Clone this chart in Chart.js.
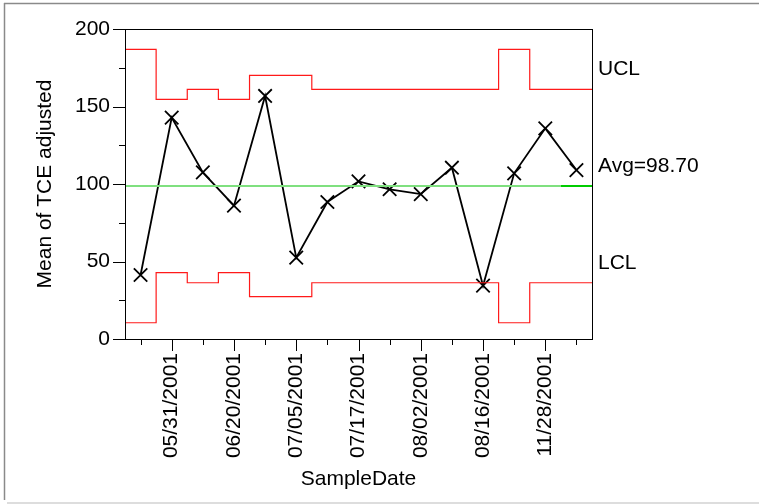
<!DOCTYPE html>
<html lang="en">
<head>
    <meta charset="UTF-8">
    <title>Mean of TCE adjusted</title>
    <script src="https://cdn.jsdelivr.net/npm/chart.js"></script>
    <style>
        body {
            margin: 0;
            background: #fff;
        }
        canvas {
            display: block;
        }
    </style>
</head>
<body>
    <canvas id="xbarChart" width="759" height="504"></canvas>

    <script>
        // tick labels along the bottom (only every other subgroup is labelled)
        const dateLabels = ['', '05/31/2001', '', '06/20/2001', '', '07/05/2001', '', '07/17/2001',
                            '', '08/02/2001', '', '08/16/2001', '', '11/28/2001', ''];
        // subgroup means
        const means = [41.3, 142.8, 107.5, 86.0, 156.8, 52.5, 88.4, 101.7, 96.6, 93.5, 110.5, 34.4, 106.9, 135.9, 109.0];
        // control limits per subgroup
        const ucl = [186.9, 154.6, 161.1, 154.6, 170.1, 170.1, 161.1, 161.1, 161.1, 161.1, 161.1, 161.1, 186.9, 161.1, 161.1];
        const lcl = [10.5, 42.8, 36.3, 42.8, 27.3, 27.3, 36.3, 36.3, 36.3, 36.3, 36.3, 36.3, 10.5, 36.3, 36.3];
        const avg = 98.70;
        const yTicks = [0, 50, 100, 150, 200];

        const FONT = '"Liberation Sans", Arial, sans-serif';
        Chart.defaults.font.family = FONT;
        Chart.defaults.font.size = 21;
        Chart.defaults.color = '#000';

        // each limit is a flat step across its subgroup
        function steps(values) {
            const pts = [];
            values.forEach((v, i) => {
                pts.push({ x: i - 0.5, y: v });
                pts.push({ x: i + 0.5, y: v });
            });
            return pts;
        }

        const avgPts = steps(means.map(() => avg));
        const lastX = means.length - 1;

        // frame, tick marks and limit labels
        const decorations = {
            id: 'decorations',
            beforeDraw(chart) {
                const ctx = chart.ctx;
                ctx.save();
                ctx.strokeStyle = '#8a8a8a';
                ctx.lineWidth = 1.5;
                ctx.beginPath();
                ctx.moveTo(4, 3.5);
                ctx.lineTo(759, 3.5);
                ctx.moveTo(4.5, 3);
                ctx.lineTo(4.5, 500);
                ctx.stroke();
                ctx.strokeStyle = '#dddddd';
                ctx.lineWidth = 2;
                ctx.beginPath();
                ctx.moveTo(7, 503);
                ctx.lineTo(759, 503);
                ctx.stroke();
                ctx.restore();
            },
            afterDraw(chart) {
                const ctx = chart.ctx;
                const area = chart.chartArea;
                const x = chart.scales.x;
                const y = chart.scales.y;
                ctx.save();
                ctx.strokeStyle = '#000';
                ctx.lineWidth = 1;
                ctx.strokeRect(Math.round(area.left) + 0.5, Math.round(area.top) + 0.5,
                               Math.round(area.right - area.left), Math.round(area.bottom - area.top));

                ctx.beginPath();
                for (let v = 0; v <= 200; v += 25) {
                    const py = Math.round(y.getPixelForValue(v)) + 0.5;
                    const len = v % 50 === 0 ? 12 : 6;
                    ctx.moveTo(area.left, py);
                    ctx.lineTo(area.left - len, py);
                }
                dateLabels.forEach((lab, i) => {
                    const px = Math.round(x.getPixelForValue(i)) + 0.5;
                    const len = lab ? 12 : 6;
                    ctx.moveTo(px, area.bottom);
                    ctx.lineTo(px, area.bottom + len);
                });
                ctx.stroke();

                ctx.fillStyle = '#000';
                ctx.font = '21px ' + FONT;
                ctx.textAlign = 'left';
                ctx.textBaseline = 'middle';
                const lx = area.right + 6;
                ctx.fillText('UCL', lx, y.getPixelForValue(ucl[lastX]) - 20);
                ctx.fillText('Avg=' + avg.toFixed(2), lx, y.getPixelForValue(avg) - 20);
                ctx.fillText('LCL', lx, y.getPixelForValue(lcl[lastX]) - 20);
                ctx.restore();
            }
        };

        const ctx = document.getElementById('xbarChart').getContext('2d');
        new Chart(ctx, {
            type: 'line',
            data: {
                datasets: [
                    {
                        label: 'UCL',
                        data: steps(ucl),
                        borderColor: '#ff1a1a',
                        borderWidth: 1.2,
                        pointRadius: 0
                    },
                    {
                        label: 'LCL',
                        data: steps(lcl),
                        borderColor: '#ff1a1a',
                        borderWidth: 1.2,
                        pointRadius: 0
                    },
                    {
                        label: 'Avg',
                        data: avgPts,
                        borderColor: '#7fe07f',
                        borderWidth: 2,
                        pointRadius: 0,
                        segment: {
                            borderColor: c => c.p0.parsed.x >= lastX - 0.5 ? '#00cc00' : '#7fe07f'
                        }
                    },
                    {
                        label: 'Mean',
                        data: means.map((v, i) => ({ x: i, y: v })),
                        borderColor: '#000',
                        borderWidth: 1.8,
                        pointStyle: 'crossRot',
                        pointRadius: 9.5,
                        pointBorderColor: '#000',
                        pointBorderWidth: 1.8
                    }
                ]
            },
            options: {
                responsive: false,
                animation: false,
                layout: { padding: { left: 20, top: 29, right: 167, bottom: 0 } },
                plugins: {
                    legend: { display: false },
                    tooltip: { enabled: false }
                },
                scales: {
                    x: {
                        type: 'linear',
                        min: -0.5,
                        max: means.length - 0.5,
                        afterBuildTicks: axis => { axis.ticks = dateLabels.map((_, i) => ({ value: i })); },
                        afterFit: scale => { scale.height = 504 - 339; },
                        grid: { display: false, drawTicks: false },
                        border: { display: false },
                        ticks: {
                            autoSkip: false,
                            minRotation: 90,
                            maxRotation: 90,
                            padding: 14,
                            callback: (v, i) => dateLabels[i]
                        },
                        title: {
                            display: true,
                            text: 'SampleDate',
                            padding: { top: 0, bottom: 12 }
                        }
                    },
                    y: {
                        min: 0,
                        max: 200,
                        afterBuildTicks: axis => { axis.ticks = yTicks.map(v => ({ value: v })); },
                        afterFit: scale => { scale.width = 105; },
                        grid: { display: false, drawTicks: false },
                        border: { display: false },
                        ticks: { padding: 15 },
                        title: {
                            display: true,
                            text: 'Mean of TCE adjusted',
                            padding: { top: 13, bottom: 0 }
                        }
                    }
                }
            },
            plugins: [decorations]
        });
    </script>
</body>
</html>
